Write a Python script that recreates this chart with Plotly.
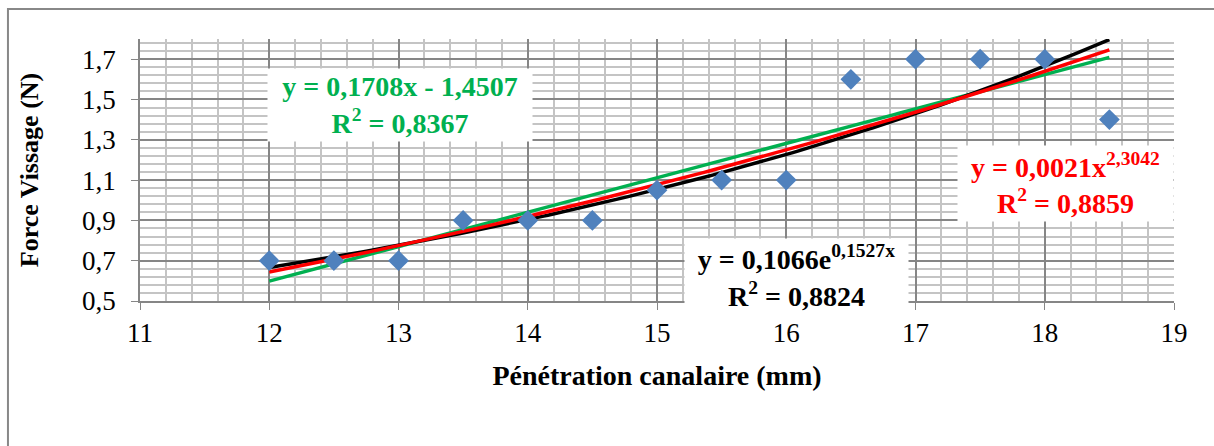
import numpy as np
import plotly.graph_objects as go

# measured points
penetration = [12, 12.5, 13, 13.5, 14, 14.5, 15, 15.5, 16, 16.5, 17, 17.5, 18, 18.5]
force = [0.7, 0.7, 0.7, 0.9, 0.9, 0.9, 1.05, 1.1, 1.1, 1.6, 1.7, 1.7, 1.7, 1.4]

# trendline coefficients as printed on the chart
lin_a, lin_b, lin_r2 = 0.1708, -1.4507, "0,8367"
pow_a, pow_b, pow_r2 = 0.0021, 2.3042, "0,8859"
exp_a, exp_b, exp_r2 = 0.1066, 0.1527, "0,8824"

x_ticks = [11, 12, 13, 14, 15, 16, 17, 18, 19]
y_ticks = [0.5, 0.7, 0.9, 1.1, 1.3, 1.5, 1.7]
y_tick_labels = ["0,5", "0,7", "0,9", "1,1", "1,3", "1,5", "1,7"]

FONT = "Liberation Serif"
GREEN = "#00B050"
RED = "#FF0000"
BLACK = "#000000"

xs = np.linspace(min(penetration), max(penetration), 200)

fig = go.Figure()
fig.add_trace(go.Scatter(x=xs, y=lin_a * xs + lin_b, mode="lines",
                         line=dict(color=GREEN, width=3.5), hoverinfo="skip"))
fig.add_trace(go.Scatter(x=xs, y=exp_a * np.exp(exp_b * xs), mode="lines",
                         line=dict(color=BLACK, width=3.5), hoverinfo="skip"))
fig.add_trace(go.Scatter(x=xs, y=pow_a * xs ** pow_b, mode="lines",
                         line=dict(color=RED, width=3.5), hoverinfo="skip"))
fig.add_trace(go.Scatter(x=penetration, y=force, mode="markers",
                         marker=dict(symbol="diamond", size=16, color="#4F81BD")))


def fmt(v):
    return f"{v:.4f}".replace(".", ",")


labels = [
    (f"y = {fmt(lin_a)}x - {fmt(abs(lin_b))}<br>R<sup>2</sup> = {lin_r2}",
     GREEN, 13.01, 1.474, 264, 72),
    (f"y = {fmt(pow_a)}x<sup>{fmt(pow_b)}</sup><br>R<sup>2</sup> = {pow_r2}",
     RED, 18.16, 1.085, 215, 75),
    (f"y = {fmt(exp_a)}e<sup>{fmt(exp_b)}x</sup><br>R<sup>2</sup> = {exp_r2}",
     BLACK, 16.08, 0.625, 223, 74),
]
for text, color, ax_x, ax_y, w, h in labels:
    fig.add_annotation(x=ax_x, y=ax_y, xref="x", yref="y", text=text,
                       showarrow=False, align="center", bgcolor="white",
                       width=w, height=h, borderpad=0,
                       font=dict(family=FONT, size=28, color=color, weight="bold"))

# outer chart frame (only top and left edges show)
fig.add_shape(type="rect", xref="paper", yref="paper",
              x0=-0.1277, x1=1.2, y0=-1.0, y1=1.1145,
              line=dict(color="#888888", width=2), layer="below")

fig.update_xaxes(
    range=[11, 19], tickvals=x_ticks, ticks="outside", ticklen=7,
    tickcolor="#868686", showline=True, linecolor="#868686", linewidth=1.5,
    showgrid=True, gridcolor="#868686", gridwidth=1.5, zeroline=False,
    minor=dict(dtick=0.2, tick0=11, showgrid=True, gridcolor="#C4C4C4", gridwidth=2),
    tickfont=dict(family=FONT, size=27, color="black"),
    title=dict(text="<b>Pénétration canalaire (mm)</b>", standoff=18,
               font=dict(family=FONT, size=28, color="black")),
)
fig.update_yaxes(
    range=[0.5, 1.8], tickvals=y_ticks, ticktext=y_tick_labels, ticks="outside",
    ticklen=7, tickcolor="#868686", showline=True, linecolor="#868686", linewidth=1.5,
    showgrid=True, gridcolor="#868686", gridwidth=1.5, zeroline=False,
    minor=dict(dtick=0.04, tick0=0.5, showgrid=True, gridcolor="#C4C4C4", gridwidth=2),
    tickfont=dict(family=FONT, size=27, color="black"), ticklabelstandoff=10,
    title=dict(text="<b>Force Vissage (N)</b>", standoff=36,
               font=dict(family=FONT, size=26, color="black")),
)

fig.update_layout(
    width=1214, height=446, showlegend=False,
    margin=dict(l=140, r=40, t=39, b=145),
    paper_bgcolor="white", plot_bgcolor="white",
)

fig.write_html("out.html", config={"displayModeBar": False},
               post_script="document.body.style.margin='0';")
